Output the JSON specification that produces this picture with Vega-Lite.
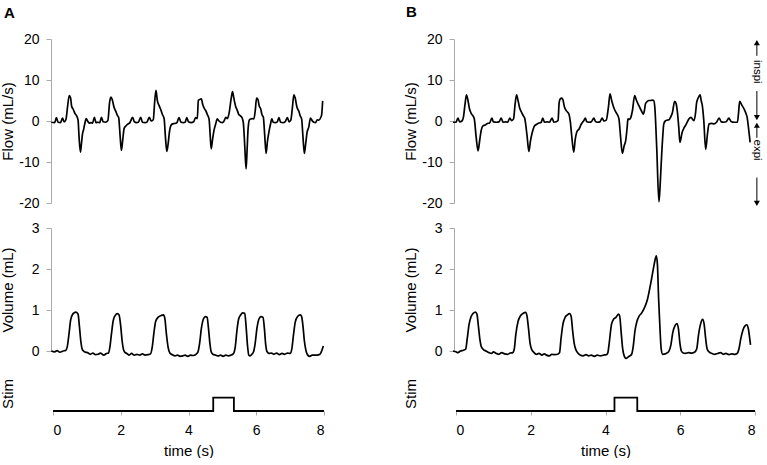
{
"$schema": "https://vega.github.io/schema/vega-lite/v6.json",
"background": "white",
"padding": {"left": 0, "top": 4, "right": 0, "bottom": 0},
"bounds": "flush",
"columns": 2,
"spacing": {"row": 25, "column": 132},
"config": {
  "font": "Liberation Sans",
  "view": {"stroke": null},
  "axis": {"grid": false, "domainColor": "#aaaaaa", "tickColor": "#aaaaaa", "labelColor": "#000000", "titleColor": "#000000", "labelFontSize": 14, "titleFontSize": 15, "titleFontWeight": "normal", "labelFont": "Liberation Sans", "titleFont": "Liberation Sans", "labelExpr": "datum.value < 0 ? '-' + (-datum.value) : '' + datum.value"}
},
"datasets": {
  "flowA": [
    {"t":-0.05,"v":-0.3},{"t":0.05,"v":-0.4},{"t":0.1,"v":0.8},{"t":0.15,"v":-0.3},{"t":0.22,"v":-0.4},{"t":0.28,"v":0.7},{"t":0.33,"v":-0.2},{"t":0.38,"v":0.3},{"t":0.43,"v":3.5},{"t":0.48,"v":6.2},{"t":0.52,"v":5.6},{"t":0.55,"v":3.6},{"t":0.6,"v":2.8},{"t":0.65,"v":1.8},{"t":0.7,"v":1.2},{"t":0.74,"v":0.2},{"t":0.77,"v":-4},{"t":0.81,"v":-7.6},{"t":0.84,"v":-5.5},{"t":0.87,"v":-3.2},{"t":0.9,"v":-2.2},{"t":0.94,"v":-0.6},{"t":0.98,"v":0.6},{"t":1.02,"v":0.0},{"t":1.07,"v":-0.5},{"t":1.12,"v":-0.4},{"t":1.17,"v":-0.5},{"t":1.22,"v":0.9},{"t":1.27,"v":-0.4},{"t":1.33,"v":-0.3},{"t":1.38,"v":-0.4},{"t":1.43,"v":0.9},{"t":1.48,"v":-0.2},{"t":1.55,"v":-0.3},{"t":1.62,"v":0.1},{"t":1.67,"v":4.5},{"t":1.71,"v":5.8},{"t":1.75,"v":5.2},{"t":1.8,"v":3.4},{"t":1.85,"v":2.4},{"t":1.9,"v":1.4},{"t":1.94,"v":0.8},{"t":1.98,"v":-3.5},{"t":2.02,"v":-7.2},{"t":2.06,"v":-4.5},{"t":2.1,"v":-1.8},{"t":2.15,"v":-1.2},{"t":2.2,"v":-0.8},{"t":2.27,"v":-0.4},{"t":2.35,"v":0.9},{"t":2.4,"v":-0.2},{"t":2.47,"v":-0.4},{"t":2.52,"v":-0.3},{"t":2.59,"v":0.9},{"t":2.64,"v":-0.3},{"t":2.72,"v":-0.4},{"t":2.78,"v":-0.2},{"t":2.84,"v":0.9},{"t":2.9,"v":0.0},{"t":2.96,"v":0.3},{"t":3.0,"v":4.5},{"t":3.04,"v":7.5},{"t":3.08,"v":5.0},{"t":3.13,"v":3.8},{"t":3.18,"v":2.8},{"t":3.23,"v":1.6},{"t":3.28,"v":0.6},{"t":3.32,"v":-4},{"t":3.36,"v":-7.4},{"t":3.4,"v":-5.5},{"t":3.44,"v":-2.5},{"t":3.48,"v":-1.1},{"t":3.53,"v":-0.7},{"t":3.58,"v":-0.6},{"t":3.65,"v":-0.5},{"t":3.72,"v":0.8},{"t":3.78,"v":-0.3},{"t":3.85,"v":-0.4},{"t":3.9,"v":-0.3},{"t":3.95,"v":0.8},{"t":4.0,"v":-0.2},{"t":4.08,"v":-0.4},{"t":4.15,"v":-0.2},{"t":4.21,"v":0.8},{"t":4.26,"v":0.6},{"t":4.29,"v":5.0},{"t":4.34,"v":5.3},{"t":4.38,"v":5.4},{"t":4.42,"v":4.0},{"t":4.47,"v":3.0},{"t":4.51,"v":2.5},{"t":4.56,"v":1.5},{"t":4.61,"v":0.3},{"t":4.64,"v":-3.5},{"t":4.67,"v":-6.8},{"t":4.71,"v":-4.5},{"t":4.75,"v":-2.4},{"t":4.8,"v":-0.8},{"t":4.85,"v":0.5},{"t":4.9,"v":0.0},{"t":4.95,"v":-0.3},{"t":5.0,"v":-0.4},{"t":5.05,"v":0.0},{"t":5.1,"v":0.9},{"t":5.15,"v":0.6},{"t":5.2,"v":2.0},{"t":5.26,"v":5.5},{"t":5.3,"v":7.2},{"t":5.34,"v":5.5},{"t":5.39,"v":3.6},{"t":5.44,"v":2.6},{"t":5.49,"v":1.5},{"t":5.54,"v":1.2},{"t":5.59,"v":0.6},{"t":5.62,"v":-0.5},{"t":5.66,"v":-6},{"t":5.7,"v":-11.7},{"t":5.73,"v":-7},{"t":5.76,"v":-1.8},{"t":5.8,"v":0.3},{"t":5.84,"v":0.5},{"t":5.88,"v":0.6},{"t":5.93,"v":0.5},{"t":5.97,"v":2.5},{"t":6.01,"v":5.6},{"t":6.05,"v":5.2},{"t":6.09,"v":3.6},{"t":6.13,"v":3.0},{"t":6.17,"v":1.5},{"t":6.21,"v":0.9},{"t":6.25,"v":-3.5},{"t":6.29,"v":-7.9},{"t":6.33,"v":-5},{"t":6.38,"v":-2.4},{"t":6.42,"v":-0.8},{"t":6.46,"v":0.5},{"t":6.5,"v":-0.3},{"t":6.56,"v":-0.4},{"t":6.62,"v":-0.2},{"t":6.67,"v":0.8},{"t":6.72,"v":-0.3},{"t":6.79,"v":-0.4},{"t":6.85,"v":-0.2},{"t":6.92,"v":0.8},{"t":6.97,"v":-0.2},{"t":7.02,"v":0.2},{"t":7.07,"v":3.5},{"t":7.11,"v":6.4},{"t":7.15,"v":5.6},{"t":7.2,"v":3.4},{"t":7.26,"v":2.3},{"t":7.3,"v":1.2},{"t":7.34,"v":0.5},{"t":7.38,"v":-4},{"t":7.42,"v":-7.9},{"t":7.46,"v":-5.5},{"t":7.5,"v":-2.8},{"t":7.55,"v":-1.5},{"t":7.6,"v":0.7},{"t":7.65,"v":0.1},{"t":7.7,"v":-0.3},{"t":7.75,"v":-0.4},{"t":7.8,"v":0.3},{"t":7.85,"v":0.2},{"t":7.9,"v":0.8},{"t":7.93,"v":1.5},{"t":7.96,"v":4.9}
  ],
  "flowB": [
    {"t":-0.08,"v":-0.3},{"t":0.0,"v":-0.3},{"t":0.05,"v":0.7},{"t":0.1,"v":-0.2},{"t":0.16,"v":0.0},{"t":0.2,"v":1.0},{"t":0.24,"v":4.0},{"t":0.28,"v":6.4},{"t":0.32,"v":5.0},{"t":0.36,"v":3.0},{"t":0.41,"v":1.8},{"t":0.45,"v":1.3},{"t":0.49,"v":0.5},{"t":0.54,"v":-4.0},{"t":0.59,"v":-7.3},{"t":0.63,"v":-5.0},{"t":0.67,"v":-2.5},{"t":0.72,"v":-1.2},{"t":0.78,"v":-1.0},{"t":0.84,"v":-0.6},{"t":0.9,"v":-0.5},{"t":0.96,"v":0.7},{"t":1.0,"v":-0.2},{"t":1.08,"v":-0.3},{"t":1.15,"v":-0.2},{"t":1.21,"v":0.7},{"t":1.26,"v":-0.3},{"t":1.33,"v":-0.2},{"t":1.38,"v":-0.3},{"t":1.44,"v":0.7},{"t":1.49,"v":0.1},{"t":1.54,"v":0.5},{"t":1.58,"v":4.0},{"t":1.62,"v":6.4},{"t":1.66,"v":5.0},{"t":1.7,"v":3.3},{"t":1.76,"v":2.0},{"t":1.8,"v":1.3},{"t":1.84,"v":0.6},{"t":1.9,"v":-3.5},{"t":1.95,"v":-7.4},{"t":1.99,"v":-5.0},{"t":2.04,"v":-2.8},{"t":2.1,"v":-1.2},{"t":2.16,"v":-0.8},{"t":2.22,"v":-0.5},{"t":2.28,"v":-0.3},{"t":2.32,"v":0.7},{"t":2.37,"v":-0.3},{"t":2.44,"v":-0.2},{"t":2.5,"v":-0.3},{"t":2.57,"v":0.7},{"t":2.62,"v":-0.3},{"t":2.68,"v":-0.2},{"t":2.73,"v":0.1},{"t":2.76,"v":4.5},{"t":2.79,"v":5.4},{"t":2.83,"v":5.6},{"t":2.86,"v":5.2},{"t":2.9,"v":3.5},{"t":2.96,"v":2.4},{"t":3.02,"v":1.7},{"t":3.06,"v":-0.3},{"t":3.1,"v":-4.0},{"t":3.15,"v":-7.6},{"t":3.19,"v":-4.5},{"t":3.24,"v":-2.5},{"t":3.29,"v":-2.0},{"t":3.35,"v":-0.8},{"t":3.42,"v":0.1},{"t":3.46,"v":0.7},{"t":3.5,"v":-0.2},{"t":3.55,"v":-0.3},{"t":3.62,"v":-0.2},{"t":3.69,"v":0.7},{"t":3.73,"v":-0.1},{"t":3.78,"v":-0.3},{"t":3.85,"v":-0.2},{"t":3.91,"v":0.7},{"t":3.96,"v":0.0},{"t":4.02,"v":0.2},{"t":4.08,"v":3.5},{"t":4.12,"v":6.6},{"t":4.17,"v":4.8},{"t":4.22,"v":3.3},{"t":4.27,"v":2.3},{"t":4.31,"v":1.7},{"t":4.36,"v":0.5},{"t":4.4,"v":-3.5},{"t":4.45,"v":-7.9},{"t":4.5,"v":-6.0},{"t":4.54,"v":-4.8},{"t":4.58,"v":-1.5},{"t":4.6,"v":0.5},{"t":4.64,"v":0.4},{"t":4.67,"v":0.7},{"t":4.72,"v":2.5},{"t":4.78,"v":6.2},{"t":4.83,"v":5.0},{"t":4.89,"v":3.8},{"t":4.96,"v":2.5},{"t":5.01,"v":1.7},{"t":5.04,"v":2.5},{"t":5.07,"v":4.2},{"t":5.12,"v":4.8},{"t":5.16,"v":5.0},{"t":5.21,"v":5.0},{"t":5.25,"v":5.1},{"t":5.29,"v":5.0},{"t":5.32,"v":3.3},{"t":5.37,"v":-6.4},{"t":5.43,"v":-19.7},{"t":5.46,"v":-16},{"t":5.49,"v":-10.5},{"t":5.53,"v":-4},{"t":5.56,"v":-0.7},{"t":5.6,"v":0.0},{"t":5.65,"v":0.2},{"t":5.7,"v":0.3},{"t":5.74,"v":0.9},{"t":5.79,"v":2.0},{"t":5.85,"v":4.8},{"t":5.89,"v":4.2},{"t":5.92,"v":2.5},{"t":5.96,"v":-1.5},{"t":5.99,"v":-5.2},{"t":6.05,"v":-2.8},{"t":6.1,"v":-1.7},{"t":6.14,"v":-1.1},{"t":6.19,"v":-0.2},{"t":6.23,"v":0.5},{"t":6.29,"v":0.9},{"t":6.33,"v":0.4},{"t":6.37,"v":0.1},{"t":6.41,"v":2.0},{"t":6.44,"v":4.6},{"t":6.49,"v":5.8},{"t":6.53,"v":6.4},{"t":6.56,"v":5.0},{"t":6.59,"v":3.8},{"t":6.63,"v":0.1},{"t":6.68,"v":-6.9},{"t":6.73,"v":-3},{"t":6.77,"v":-0.7},{"t":6.84,"v":-0.6},{"t":6.9,"v":-0.7},{"t":6.97,"v":-0.3},{"t":7.04,"v":0.7},{"t":7.1,"v":-0.2},{"t":7.17,"v":-0.3},{"t":7.23,"v":-0.2},{"t":7.3,"v":0.7},{"t":7.36,"v":-0.1},{"t":7.44,"v":-0.3},{"t":7.53,"v":-0.3},{"t":7.56,"v":2.0},{"t":7.59,"v":4.8},{"t":7.64,"v":4.0},{"t":7.71,"v":2.9},{"t":7.76,"v":1.8},{"t":7.79,"v":0.9},{"t":7.83,"v":-2},{"t":7.87,"v":-5.2}
  ],
  "volA": [
    {"t":-0.05,"v":0.0},{"t":0.05,"v":-0.02},{"t":0.12,"v":0.01},{"t":0.2,"v":-0.03},{"t":0.3,"v":0.0},{"t":0.38,"v":0.02},{"t":0.42,"v":0.1},{"t":0.47,"v":0.4},{"t":0.52,"v":0.75},{"t":0.57,"v":0.88},{"t":0.62,"v":0.93},{"t":0.68,"v":0.95},{"t":0.74,"v":0.9},{"t":0.78,"v":0.6},{"t":0.82,"v":0.25},{"t":0.86,"v":0.05},{"t":0.9,"v":0.0},{"t":0.96,"v":-0.03},{"t":1.02,"v":-0.04},{"t":1.1,"v":-0.08},{"t":1.18,"v":-0.05},{"t":1.25,"v":-0.09},{"t":1.33,"v":-0.08},{"t":1.4,"v":-0.05},{"t":1.5,"v":-0.1},{"t":1.58,"v":-0.06},{"t":1.64,"v":-0.05},{"t":1.68,"v":0.1},{"t":1.73,"v":0.45},{"t":1.78,"v":0.75},{"t":1.84,"v":0.87},{"t":1.9,"v":0.91},{"t":1.95,"v":0.88},{"t":2.0,"v":0.6},{"t":2.04,"v":0.25},{"t":2.08,"v":0.04},{"t":2.12,"v":-0.03},{"t":2.18,"v":-0.06},{"t":2.25,"v":-0.1},{"t":2.32,"v":-0.06},{"t":2.4,"v":-0.1},{"t":2.48,"v":-0.08},{"t":2.56,"v":-0.1},{"t":2.64,"v":-0.07},{"t":2.72,"v":-0.1},{"t":2.8,"v":-0.09},{"t":2.88,"v":-0.07},{"t":2.93,"v":0.1},{"t":2.98,"v":0.45},{"t":3.03,"v":0.72},{"t":3.1,"v":0.82},{"t":3.2,"v":0.87},{"t":3.26,"v":0.88},{"t":3.3,"v":0.8},{"t":3.35,"v":0.4},{"t":3.4,"v":0.08},{"t":3.45,"v":-0.05},{"t":3.52,"v":-0.09},{"t":3.6,"v":-0.12},{"t":3.68,"v":-0.1},{"t":3.75,"v":-0.13},{"t":3.83,"v":-0.12},{"t":3.9,"v":-0.1},{"t":3.98,"v":-0.13},{"t":4.06,"v":-0.1},{"t":4.14,"v":-0.11},{"t":4.22,"v":-0.08},{"t":4.28,"v":-0.02},{"t":4.33,"v":0.2},{"t":4.38,"v":0.55},{"t":4.44,"v":0.78},{"t":4.5,"v":0.84},{"t":4.55,"v":0.82},{"t":4.59,"v":0.55},{"t":4.63,"v":0.2},{"t":4.67,"v":-0.02},{"t":4.72,"v":-0.08},{"t":4.8,"v":-0.1},{"t":4.88,"v":-0.12},{"t":4.95,"v":-0.1},{"t":5.02,"v":-0.13},{"t":5.1,"v":-0.1},{"t":5.18,"v":-0.12},{"t":5.26,"v":-0.1},{"t":5.33,"v":-0.06},{"t":5.38,"v":0.1},{"t":5.43,"v":0.5},{"t":5.48,"v":0.78},{"t":5.54,"v":0.88},{"t":5.6,"v":0.93},{"t":5.66,"v":0.92},{"t":5.7,"v":0.6},{"t":5.74,"v":0.15},{"t":5.78,"v":-0.1},{"t":5.82,"v":-0.12},{"t":5.87,"v":-0.08},{"t":5.92,"v":-0.02},{"t":5.97,"v":0.2},{"t":6.02,"v":0.55},{"t":6.08,"v":0.78},{"t":6.14,"v":0.84},{"t":6.2,"v":0.82},{"t":6.24,"v":0.55},{"t":6.28,"v":0.15},{"t":6.32,"v":-0.02},{"t":6.38,"v":-0.06},{"t":6.45,"v":-0.05},{"t":6.52,"v":-0.08},{"t":6.6,"v":-0.05},{"t":6.68,"v":-0.09},{"t":6.76,"v":-0.06},{"t":6.84,"v":-0.08},{"t":6.92,"v":-0.05},{"t":7.0,"v":-0.06},{"t":7.05,"v":0.05},{"t":7.1,"v":0.4},{"t":7.15,"v":0.7},{"t":7.22,"v":0.84},{"t":7.3,"v":0.88},{"t":7.34,"v":0.84},{"t":7.38,"v":0.6},{"t":7.42,"v":0.25},{"t":7.47,"v":0.0},{"t":7.52,"v":-0.1},{"t":7.58,"v":-0.13},{"t":7.65,"v":-0.1},{"t":7.72,"v":-0.1},{"t":7.8,"v":-0.1},{"t":7.88,"v":-0.08},{"t":7.93,"v":0.0},{"t":7.98,"v":0.12}
  ],
  "volB": [
    {"t":-0.08,"v":0.0},{"t":0.0,"v":-0.02},{"t":0.05,"v":-0.04},{"t":0.12,"v":0.0},{"t":0.2,"v":0.02},{"t":0.26,"v":0.05},{"t":0.3,"v":0.3},{"t":0.35,"v":0.65},{"t":0.4,"v":0.83},{"t":0.46,"v":0.92},{"t":0.52,"v":0.95},{"t":0.56,"v":0.9},{"t":0.6,"v":0.6},{"t":0.64,"v":0.28},{"t":0.68,"v":0.1},{"t":0.74,"v":0.03},{"t":0.8,"v":0.0},{"t":0.88,"v":-0.04},{"t":0.95,"v":-0.06},{"t":1.0,"v":-0.02},{"t":1.08,"v":-0.06},{"t":1.15,"v":-0.08},{"t":1.22,"v":-0.04},{"t":1.3,"v":-0.07},{"t":1.38,"v":-0.08},{"t":1.45,"v":-0.05},{"t":1.52,"v":-0.04},{"t":1.56,"v":0.05},{"t":1.6,"v":0.4},{"t":1.66,"v":0.72},{"t":1.72,"v":0.85},{"t":1.8,"v":0.92},{"t":1.86,"v":0.94},{"t":1.9,"v":0.85},{"t":1.94,"v":0.55},{"t":1.98,"v":0.2},{"t":2.02,"v":0.05},{"t":2.08,"v":-0.03},{"t":2.15,"v":-0.08},{"t":2.22,"v":-0.06},{"t":2.3,"v":-0.1},{"t":2.36,"v":-0.07},{"t":2.42,"v":-0.1},{"t":2.5,"v":-0.12},{"t":2.56,"v":-0.08},{"t":2.64,"v":-0.09},{"t":2.72,"v":-0.08},{"t":2.77,"v":-0.04},{"t":2.81,"v":0.3},{"t":2.86,"v":0.65},{"t":2.92,"v":0.82},{"t":2.98,"v":0.88},{"t":3.04,"v":0.91},{"t":3.08,"v":0.85},{"t":3.12,"v":0.5},{"t":3.16,"v":0.2},{"t":3.2,"v":0.05},{"t":3.26,"v":-0.05},{"t":3.32,"v":-0.1},{"t":3.4,"v":-0.12},{"t":3.48,"v":-0.09},{"t":3.55,"v":-0.12},{"t":3.62,"v":-0.1},{"t":3.7,"v":-0.13},{"t":3.78,"v":-0.1},{"t":3.86,"v":-0.12},{"t":3.95,"v":-0.1},{"t":4.02,"v":-0.09},{"t":4.06,"v":-0.05},{"t":4.1,"v":0.2},{"t":4.16,"v":0.65},{"t":4.22,"v":0.78},{"t":4.28,"v":0.82},{"t":4.35,"v":0.9},{"t":4.38,"v":0.85},{"t":4.42,"v":0.45},{"t":4.46,"v":0.05},{"t":4.5,"v":-0.12},{"t":4.55,"v":-0.18},{"t":4.6,"v":-0.15},{"t":4.65,"v":-0.12},{"t":4.7,"v":-0.08},{"t":4.74,"v":0.1},{"t":4.79,"v":0.5},{"t":4.84,"v":0.72},{"t":4.9,"v":0.85},{"t":4.97,"v":0.93},{"t":5.04,"v":1.05},{"t":5.12,"v":1.25},{"t":5.2,"v":1.6},{"t":5.26,"v":1.9},{"t":5.31,"v":2.15},{"t":5.36,"v":2.32},{"t":5.39,"v":2.1},{"t":5.42,"v":1.3},{"t":5.46,"v":0.5},{"t":5.49,"v":0.05},{"t":5.53,"v":-0.08},{"t":5.6,"v":-0.07},{"t":5.66,"v":-0.04},{"t":5.7,"v":0.0},{"t":5.75,"v":0.15},{"t":5.8,"v":0.45},{"t":5.86,"v":0.62},{"t":5.91,"v":0.67},{"t":5.95,"v":0.55},{"t":5.99,"v":0.2},{"t":6.03,"v":0.0},{"t":6.08,"v":-0.05},{"t":6.14,"v":-0.06},{"t":6.22,"v":-0.04},{"t":6.3,"v":-0.05},{"t":6.38,"v":-0.03},{"t":6.44,"v":0.05},{"t":6.49,"v":0.4},{"t":6.55,"v":0.68},{"t":6.6,"v":0.77},{"t":6.64,"v":0.65},{"t":6.68,"v":0.3},{"t":6.72,"v":0.05},{"t":6.78,"v":-0.03},{"t":6.85,"v":-0.06},{"t":6.92,"v":-0.08},{"t":7.0,"v":-0.06},{"t":7.08,"v":-0.04},{"t":7.15,"v":-0.08},{"t":7.22,"v":-0.06},{"t":7.3,"v":-0.09},{"t":7.38,"v":-0.07},{"t":7.46,"v":-0.08},{"t":7.52,"v":-0.06},{"t":7.57,"v":0.05},{"t":7.62,"v":0.3},{"t":7.68,"v":0.52},{"t":7.74,"v":0.62},{"t":7.78,"v":0.64},{"t":7.82,"v":0.55},{"t":7.86,"v":0.3},{"t":7.88,"v":0.15}
  ],
  "stimA": [{"t":0,"v":0},{"t":4.73,"v":1},{"t":5.34,"v":0},{"t":8,"v":0}],
  "stimB": [{"t":0,"v":0},{"t":4.24,"v":1},{"t":4.85,"v":0},{"t":8,"v":0}],
  "labelA": [{"t":-1.29,"v":26.3,"label":"A"}],
  "labelB": [{"t":-1.19,"v":26.7,"label":"B"}],
  "arrowLines": [{"t":8.05,"v":19.1,"v2":15.9},{"t":8.05,"v":7.3,"v2":0.83},{"t":8.05,"v":-1.03,"v2":-4.1},{"t":8.05,"v":-13.8,"v2":-20.07}],
  "arrowHeads": [{"t":8.05,"v":19.1,"dir":"up"},{"t":8.05,"v":0.83,"dir":"down"},{"t":8.05,"v":-1.03,"dir":"up"},{"t":8.05,"v":-20.07,"dir":"down"}],
  "arrowText": [{"t":8.05,"v":12.0,"label":"inspi"},{"t":8.05,"v":-7.1,"label":"expi"}]
},
"concat": [
  {
    "width": 271, "height": 164,
    "layer": [
      {"data": {"name": "flowA"}, "mark": {"type": "line", "color": "black", "strokeWidth": 1.7, "interpolate": "monotone"},
       "encoding": {
         "x": {"field": "t", "type": "quantitative", "scale": {"domain": [0, 8], "nice": false}, "axis": null},
         "y": {"field": "v", "type": "quantitative", "scale": {"domain": [-20, 20], "nice": false},
               "axis": {"values": [-20, -10, 0, 10, 20], "title": "Flow (mL/s)", "tickSize": 5, "labelPadding": 7, "titlePadding": 3, "offset": 2}}}},
      {"data": {"name": "labelA"}, "mark": {"type": "text", "fontSize": 15, "fontWeight": "bold", "align": "center", "baseline": "middle", "color": "black"},
       "encoding": {"x": {"field": "t", "type": "quantitative"}, "y": {"field": "v", "type": "quantitative"}, "text": {"field": "label"}}}
    ]
  },
  {
    "width": 299, "height": 164,
    "layer": [
      {"data": {"name": "flowB"}, "mark": {"type": "line", "color": "black", "strokeWidth": 1.7, "interpolate": "monotone"},
       "encoding": {
         "x": {"field": "t", "type": "quantitative", "scale": {"domain": [0, 8], "nice": false}, "axis": null},
         "y": {"field": "v", "type": "quantitative", "scale": {"domain": [-20, 20], "nice": false},
               "axis": {"values": [-20, -10, 0, 10, 20], "title": "Flow (mL/s)", "tickSize": 5, "labelPadding": 7, "titlePadding": 3, "offset": 2}}}},
      {"data": {"name": "labelB"}, "mark": {"type": "text", "fontSize": 15, "fontWeight": "bold", "align": "center", "baseline": "middle", "color": "black"},
       "encoding": {"x": {"field": "t", "type": "quantitative"}, "y": {"field": "v", "type": "quantitative"}, "text": {"field": "label"}}},
      {"data": {"name": "arrowLines"}, "mark": {"type": "rule", "color": "black", "strokeWidth": 1},
       "encoding": {"x": {"field": "t", "type": "quantitative"}, "y": {"field": "v", "type": "quantitative"}, "y2": {"field": "v2"}}},
      {"data": {"name": "arrowHeads"}, "mark": {"type": "point", "filled": true, "color": "black", "size": 36, "opacity": 1},
       "encoding": {"x": {"field": "t", "type": "quantitative"}, "y": {"field": "v", "type": "quantitative"},
                    "shape": {"field": "dir", "type": "nominal", "scale": {"domain": ["up", "down"], "range": ["triangle-up", "triangle-down"]}, "legend": null}}},
      {"data": {"name": "arrowText"}, "mark": {"type": "text", "fontSize": 11.5, "angle": 90, "align": "center", "baseline": "middle", "color": "black"},
       "encoding": {"x": {"field": "t", "type": "quantitative"}, "y": {"field": "v", "type": "quantitative"}, "text": {"field": "label"}}}
    ]
  },
  {
    "width": 271, "height": 123,
    "data": {"name": "volA"},
    "mark": {"type": "line", "color": "black", "strokeWidth": 1.7, "interpolate": "monotone"},
    "encoding": {
      "x": {"field": "t", "type": "quantitative", "scale": {"domain": [0, 8], "nice": false}, "axis": null},
      "y": {"field": "v", "type": "quantitative", "scale": {"domain": [0, 3], "nice": false},
            "axis": {"values": [0, 1, 2, 3], "title": "Volume (mL)", "tickSize": 5, "labelPadding": 7, "titlePadding": 15.4, "offset": 2}}}
  },
  {
    "width": 299, "height": 123,
    "data": {"name": "volB"},
    "mark": {"type": "line", "color": "black", "strokeWidth": 1.7, "interpolate": "monotone"},
    "encoding": {
      "x": {"field": "t", "type": "quantitative", "scale": {"domain": [0, 8], "nice": false}, "axis": null},
      "y": {"field": "v", "type": "quantitative", "scale": {"domain": [0, 3], "nice": false},
            "axis": {"values": [0, 1, 2, 3], "title": "Volume (mL)", "tickSize": 5, "labelPadding": 7, "titlePadding": 15.4, "offset": 2}}}
  },
  {
    "width": 271, "height": 35,
    "data": {"name": "stimA"},
    "mark": {"type": "line", "color": "black", "strokeWidth": 1.8, "interpolate": "step-after"},
    "encoding": {
      "x": {"field": "t", "type": "quantitative", "scale": {"domain": [0, 8], "nice": false},
            "axis": {"values": [0, 2, 4, 6, 8], "title": "time (s)", "tickSize": 4, "labelPadding": 8, "titlePadding": 6, "domain": false}},
      "y": {"field": "v", "type": "quantitative", "scale": {"domain": [0, 2.63], "nice": false},
            "axis": {"title": "Stim", "labels": false, "ticks": false, "domain": false, "titlePadding": 35.2, "offset": 2}}}
  },
  {
    "width": 299, "height": 35,
    "data": {"name": "stimB"},
    "mark": {"type": "line", "color": "black", "strokeWidth": 1.8, "interpolate": "step-after"},
    "encoding": {
      "x": {"field": "t", "type": "quantitative", "scale": {"domain": [0, 8], "nice": false},
            "axis": {"values": [0, 2, 4, 6, 8], "title": "time (s)", "tickSize": 4, "labelPadding": 8, "titlePadding": 6, "domain": false}},
      "y": {"field": "v", "type": "quantitative", "scale": {"domain": [0, 2.63], "nice": false},
            "axis": {"title": "Stim", "labels": false, "ticks": false, "domain": false, "titlePadding": 35.2, "offset": 2}}}
  }
]
}
